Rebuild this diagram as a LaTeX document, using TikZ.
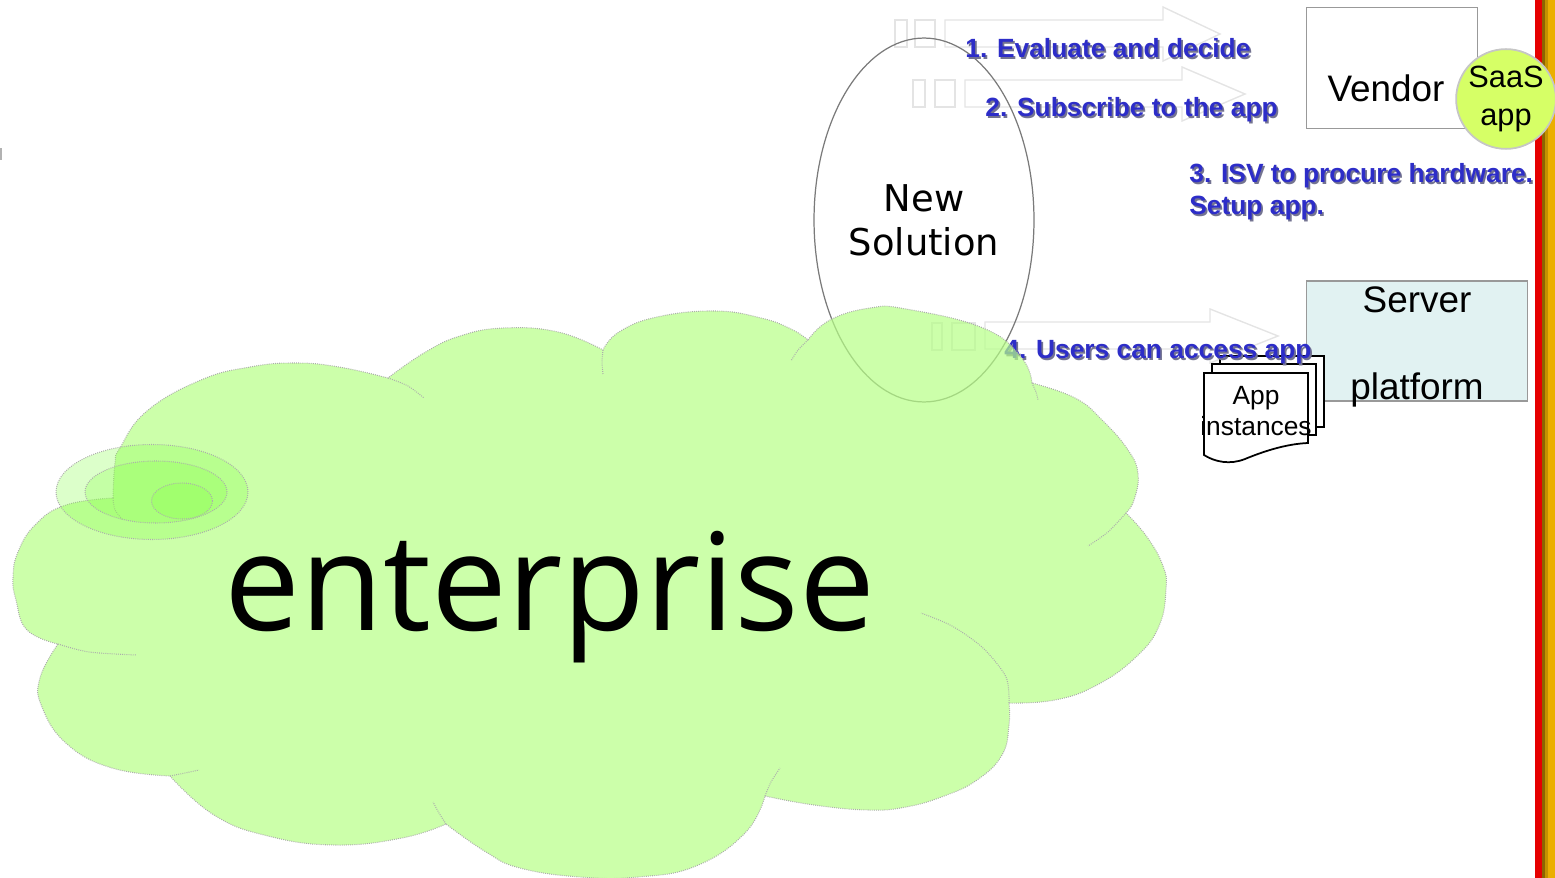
\documentclass[tikz,border=0pt]{standalone}
\usepackage{fontspec}
\setmainfont{Liberation Sans}
\newfontfamily\dejavu{DejaVu Sans}
\newfontfamily\opensans{Open Sans}
\usetikzlibrary{shapes.geometric}
\definecolor{labelblue}{RGB}{45,45,200}
\definecolor{labelshadow}{RGB}{115,115,145}
\definecolor{cloudgreen}{RGB}{182,255,134}
\definecolor{targetgreen}{RGB}{140,255,80}
\definecolor{saasgreen}{RGB}{214,255,102}
\definecolor{servercyan}{RGB}{225,242,242}
\definecolor{stripered}{RGB}{230,0,0}
\definecolor{stripebrown}{RGB}{140,100,0}
\definecolor{stripeolive}{RGB}{195,145,0}
\definecolor{stripegold}{RGB}{235,175,0}
\definecolor{ghostgray}{RGB}{228,228,228}
\newcommand{\shadowed}[1]{\makebox[0pt][l]{\hspace{1pt}\raisebox{-1pt}{\textcolor{labelshadow}{#1}}}#1}

\begin{document}
\begin{tikzpicture}[x=0.02cm,y=-0.02cm,
    steplabel/.style={text=labelblue,font=\bfseries\fontsize{15}{18}\selectfont,inner sep=0pt},
    ghostarrow/.style={draw=ghostgray,line width=0.8pt},
    cloudline/.style={draw=gray!65,line width=0.6pt,dash pattern=on 0.5pt off 0.7pt},
    plainbox/.style={draw=gray!80,line width=0.9pt,rectangle},
    boxtext/.style={font=\fontsize{21}{25}\selectfont,inner sep=0pt},
    docshape/.style={draw=black,line width=1pt,fill=white}]
        \useasboundingbox (0,0) rectangle (1555,878);
        \fill[gray!60] (0,148) rectangle (2,160);
        % faded arrows behind the steps
        \draw[ghostarrow] (945,20) -- (1163,20) -- (1163,7) -- (1220,34) -- (1163,61) -- (1163,47) -- (945,47) -- cycle;
        \draw[ghostarrow] (895,20) rectangle (907,47) (915,20) rectangle (935,47);
        \draw[ghostarrow] (965,80) -- (1182,80) -- (1182,67) -- (1245,94) -- (1182,121) -- (1182,107) -- (965,107) -- cycle;
        \draw[ghostarrow] (913,80) rectangle (925,107) (935,80) rectangle (955,107);
        \draw[ghostarrow] (985,322) -- (1210,322) -- (1210,309) -- (1278,336) -- (1210,363) -- (1210,349) -- (985,349) -- cycle;
        \draw[ghostarrow] (932,323) rectangle (942,350) (952,323) rectangle (975,350);
        % new solution
        \node[ellipse,draw=black!52,line width=0.7pt,inner sep=0pt,minimum width=4.4cm,minimum height=7.28cm,
              align=center,font=\dejavu\fontsize{21}{25}\selectfont] (newsol) at (924,220) {New\\Solution};
        % vendor side
        \node[plainbox,fill=white,minimum width=3.42cm,minimum height=2.42cm] (vendor) at (1392,68) {};
        \node[boxtext] (vendorname) at (1386,88) {Vendor};
        \node[plainbox,fill=servercyan,minimum width=4.42cm,minimum height=2.4cm] (server) at (1417,341) {};
        \node[boxtext,align=center] (servername) at (1417,347) {Server\\[25pt]platform};
        \draw[docshape] (1220,356) rectangle (1324,427);
        \draw[docshape] (1212,364) rectangle (1316,435);
        \draw[docshape] (1204,373) -- (1308,373) -- (1308,443) .. controls (1285,444) and (1262,452) .. (1245,459)
            .. controls (1230,465) and (1215,462) .. (1204,455) -- cycle;
        \node[font=\fontsize{15}{17.6}\selectfont,align=center,inner sep=0pt] (appinst) at (1256,411) {App\\instances};
        % steps
        \node[steplabel,anchor=west] (evaluate) at (965,49) {\shadowed{1. Evaluate and decide}};
        \node[steplabel,anchor=west] (subscribe) at (985,111) {\shadowed{2. Subscribe to the app}};
        \node[steplabel,anchor=north west,align=left,font=\bfseries\fontsize{15}{18.2}\selectfont] (procure) at (1189,163)
            {\shadowed{3. ISV to procure hardware.}\\\shadowed{Setup app.}};
        \node[steplabel,anchor=west] (access) at (1004,353) {\shadowed{4. Users can access app}};
        % the cloud
        \path[cloudline,fill=cloudgreen,fill opacity=0.7]
            plot [smooth,tension=0.75] coordinates{(113,498) (115,463) (120,448) (147,411) (201,380) (250,367) (295,363) (339,367) (388,378)}
            -- plot [smooth,tension=0.75] coordinates{(388,378) (424,353) (460,336) (504,328) (558,332) (603,350)}
            -- plot [smooth,tension=0.75] coordinates{(603,350) (619,332) (657,317) (715,311) (761,318) (791,329) (808,340)}
            -- plot [smooth,tension=0.75] coordinates{(808,340) (830,320) (870,308) (906,309) (983,328) (1021,357) (1032,383)}
            -- plot [smooth,tension=0.75] coordinates{(1032,383) (1075,398) (1102,420) (1128,450) (1138,474) (1134,500) (1126,513)}
            -- plot [smooth,tension=0.75] coordinates{(1126,513) (1147,537) (1163,566) (1166,589) (1159,626) (1136,657) (1097,685) (1055,700) (1009,703)}
            -- plot [smooth,tension=0.75] coordinates{(1009,703) (1009,725) (1002,755) (977,780) (944,796) (906,807) (868,810) (814,805) (765,796)}
            -- plot [smooth,tension=0.75] coordinates{(765,796) (745,833) (696,866) (638,877) (580,877) (520,868) (486,852) (446,824)}
            -- plot [smooth,tension=0.75] coordinates{(446,824) (402,838) (335,845) (268,836) (214,815) (170,776)}
            -- plot [smooth,tension=0.75] coordinates{(170,776) (112,768) (67,744) (42,707) (40,678) (58,644)}
            -- plot [smooth,tension=0.75] coordinates{(58,644) (27,630) (16,600) (13,578) (18,552) (36,524) (66,505) (113,498)}
            -- cycle;
        \draw[cloudline] plot [smooth] coordinates{(388,378) (408,386) (424,398)};
        \draw[cloudline] plot [smooth] coordinates{(603,350) (602,362) (603,374)};
        \draw[cloudline] plot [smooth] coordinates{(808,340) (798,350) (791,361)};
        \draw[cloudline] plot [smooth] coordinates{(1032,383) (1036,392) (1038,400)};
        \draw[cloudline] plot [smooth] coordinates{(1126,513) (1108,532) (1088,546)};
        \draw[cloudline] plot [smooth] coordinates{(1009,703) (1006,677) (983,648) (952,626) (921,613)};
        \draw[cloudline] plot [smooth] coordinates{(765,796) (771,782) (780,768)};
        \draw[cloudline] plot [smooth] coordinates{(446,824) (439,813) (433,802)};
        \draw[cloudline] plot [smooth] coordinates{(170,776) (185,773) (199,770)};
        \draw[cloudline] plot [smooth] coordinates{(58,644) (89,652) (136,655)};
        \draw[cloudline] plot [smooth] coordinates{(113,498) (115,510) (123,520)};
        % rings on the cloud
        \foreach \cx/\cy/\rx/\ry in {152/492/1.92/0.95, 156/492/1.42/0.62, 182/501/0.61/0.36}
            \draw[cloudline,fill=targetgreen,fill opacity=0.3] (\cx,\cy) ellipse [x radius=\rx cm, y radius=\ry cm];
        \node[font=\opensans\fontsize{77}{80}\selectfont,anchor=base,inner sep=0pt] (enterprise) at (550,630) {enterprise};
        % edge stripe
        \fill[stripered] (1535,0) rectangle (1542,878);
        \fill[stripebrown] (1542,0) rectangle (1545,878);
        \fill[stripeolive] (1545,0) rectangle (1548,878);
        \fill[stripegold] (1548,0) rectangle (1555,878);
        \node[circle,draw=gray!45,line width=1pt,fill=saasgreen,minimum size=1.8cm,inner sep=0pt,
              align=center,font=\fontsize{17.5}{21.5}\selectfont] (saas) at (1506,99) {SaaS\\app};
    \end{tikzpicture}
\end{document}
